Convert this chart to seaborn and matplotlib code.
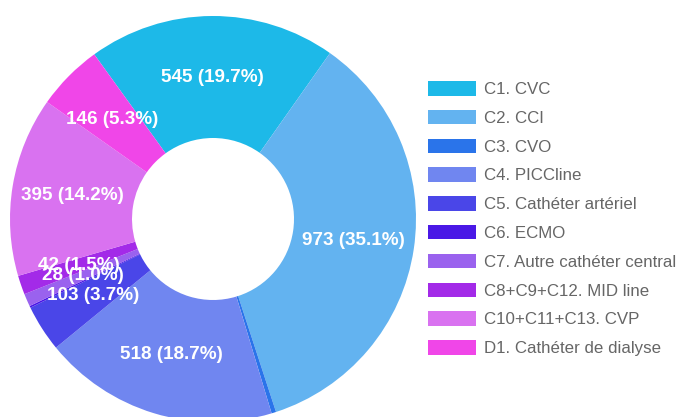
import matplotlib
matplotlib.use("Agg")
import matplotlib.pyplot as plt
import seaborn as sns
from matplotlib.patches import Patch

categories = ["C1. CVC", "C2. CCI", "C3. CVO", "C4. PICCline", "C5. Cathéter artériel",
              "C6. ECMO", "C7. Autre cathéter central", "C8+C9+C12. MID line",
              "C10+C11+C13. CVP", "D1. Cathéter de dialyse"]
values = [545, 973, 10, 518, 103, 4, 28, 42, 395, 146]
percents = [19.7, 35.1, 0.4, 18.7, 3.7, 0.1, 1.0, 1.5, 14.2, 5.3]
colors = ["#1db9e8", "#63b3f0", "#2a74ea", "#7086f0", "#4a46e8",
          "#4a18e6", "#9a62ee", "#a32ae8", "#d972f0", "#f046e8"]

sns.set_theme(style="white")
plt.rcParams['font.family'] = ['Liberation Sans', 'DejaVu Sans']
palette = sns.color_palette(colors)

W, H = 678, 417
fig = plt.figure(figsize=(W / 100, H / 100), dpi=100)
ax = fig.add_axes([0, 0, 1, 1])

cx, cy, R, r_in = 213, H - 219, 203, 81

wedges, texts, autotexts = ax.pie(
    values, colors=palette, startangle=125.8, counterclock=False,
    radius=R, center=(cx, cy), autopct="%1.1f", pctdistance=(R + r_in) / 2 / R,
    wedgeprops=dict(width=R - r_in, linewidth=0, antialiased=True),
    textprops=dict(color="white", fontweight="bold", fontsize=13.6))

for t, v, p in zip(autotexts, values, percents):
    t.set_text(f"{v} ({p:.1f}%)" if p >= 1.0 else "")

ax.set_xlim(0, W)
ax.set_ylim(0, H)
ax.set_aspect("equal")
ax.axis("off")

handles = [Patch(facecolor=c, edgecolor=c, linewidth=0) for c in palette]
leg = fig.legend(handles, categories, loc="upper left",
                 bbox_to_anchor=(428 / W, 1 - 81 / H), frameon=False,
                 fontsize=12.2, handlelength=2.83, handleheight=0.94,
                 handletextpad=0.45, labelspacing=0.75, borderpad=0, borderaxespad=0)
for t in leg.get_texts():
    t.set_color("#666666")

fig.savefig("out.png", dpi=100)
